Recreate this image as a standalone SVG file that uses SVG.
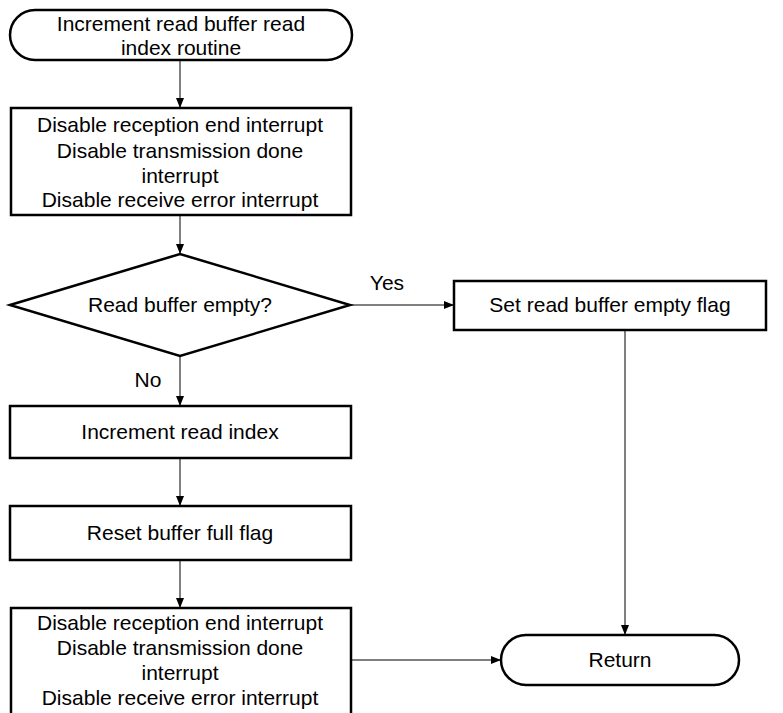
<svg xmlns="http://www.w3.org/2000/svg" width="783" height="713" viewBox="0 0 783 713">
<style>
.n{fill:#fff;stroke:#000;stroke-width:2.5}
.t{font-family:"Liberation Sans",Arial,sans-serif;font-size:21px;fill:#000;text-anchor:middle}
.c{fill:none;stroke:#000;stroke-width:1}
</style>
<defs>
<marker id="a" markerWidth="10" markerHeight="8" refX="10" refY="4" orient="auto" markerUnits="userSpaceOnUse">
<path d="M0,0 L10,4 L0,8 Z" fill="#000"/>
</marker>
</defs>
<rect width="783" height="713" fill="#fff"/>
<g id="connectors">
<line class="c" x1="180" y1="60" x2="180" y2="108" marker-end="url(#a)"/>
<line class="c" x1="180" y1="215" x2="180" y2="254" marker-end="url(#a)"/>
<line class="c" x1="350" y1="305" x2="454" y2="305" marker-end="url(#a)"/>
<line class="c" x1="180" y1="356" x2="180" y2="406" marker-end="url(#a)"/>
<line class="c" x1="180" y1="458" x2="180" y2="506" marker-end="url(#a)"/>
<line class="c" x1="180" y1="560" x2="180" y2="608" marker-end="url(#a)"/>
<line class="c" x1="625" y1="330" x2="625" y2="635" marker-end="url(#a)"/>
<line class="c" x1="351" y1="660" x2="501" y2="660" marker-end="url(#a)"/>
<text class="t" x="387" y="290">Yes</text>
<text class="t" x="148" y="387">No</text>
</g>
<g id="start">
<rect class="n" x="10" y="10" width="342" height="50" rx="25"/>
<text class="t" x="181" y="31">Increment read buffer read</text>
<text class="t" x="181" y="55">index routine</text>
</g>
<g id="disable1">
<rect class="n" x="11" y="108" width="340" height="107"/>
<text class="t" x="180" y="132">Disable reception end interrupt</text>
<text class="t" x="180" y="158">Disable transmission done</text>
<text class="t" x="180" y="183">interrupt</text>
<text class="t" x="180" y="207">Disable receive error interrupt</text>
</g>
<g id="decision">
<polygon class="n" points="10,305 180,254 350,305 180,356"/>
<text class="t" x="180" y="312">Read buffer empty?</text>
</g>
<g id="setflag">
<rect class="n" x="454" y="281" width="312" height="49"/>
<text class="t" x="610" y="312">Set read buffer empty flag</text>
</g>
<g id="increment">
<rect class="n" x="10" y="406" width="341" height="52"/>
<text class="t" x="180" y="439">Increment read index</text>
</g>
<g id="reset">
<rect class="n" x="10" y="506" width="341" height="54"/>
<text class="t" x="180" y="540">Reset buffer full flag</text>
</g>
<g id="disable2">
<rect class="n" x="11" y="608" width="340" height="110"/>
<text class="t" x="180" y="630">Disable reception end interrupt</text>
<text class="t" x="180" y="655">Disable transmission done</text>
<text class="t" x="180" y="680">interrupt</text>
<text class="t" x="180" y="705">Disable receive error interrupt</text>
</g>
<g id="return">
<rect class="n" x="501" y="635" width="238" height="50" rx="25"/>
<text class="t" x="620" y="667">Return</text>
</g>
</svg>
